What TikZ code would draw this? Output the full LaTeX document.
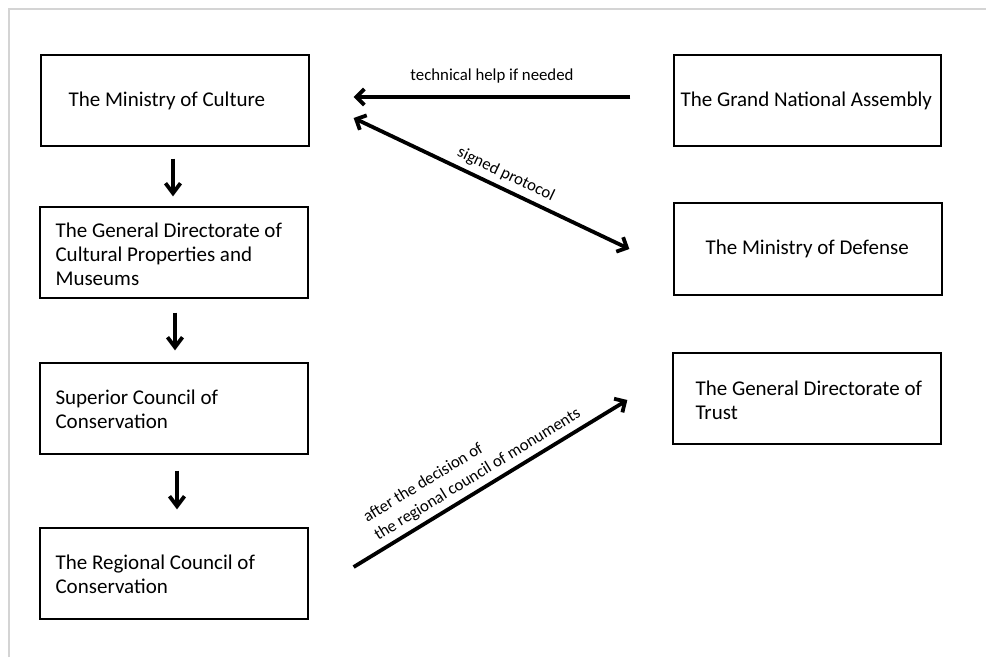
\documentclass[tikz,border=0pt]{standalone}
\usepackage{fontspec}
\setmainfont{Carlito}
\usetikzlibrary{arrows.meta}
\definecolor{framegray}{RGB}{212,212,212}
\begin{document}
\begin{tikzpicture}[x=1pt,y=-1pt,
  box/.style={draw, line width=1.3pt, minimum width=268pt, minimum height=91pt, inner sep=0pt},
  txt/.style={anchor=west, inner sep=0pt, align=left, font=\fontsize{21}{24}\selectfont},
  lbl/.style={font=\fontsize{16.8}{21}\selectfont, inner sep=2pt},
  barb/.tip={Straight Barb[length=8pt,width=16pt]},
  vbarb/.tip={Straight Barb[length=10pt,width=15pt]},
  conn/.style={line width=3.8pt, -barb},
  vconn/.style={line width=3.8pt, -vbarb},
  conntwo/.style={line width=3.8pt, barb-barb}]
\useasboundingbox (0,0) rectangle (986,657);
\draw[framegray, line width=2pt] (9,657) -- (9,9) -- (986,9);

% left column
\node[box] (culture) at (175,100.5) {};
\node[txt] (culture-t) at ([xshift=28pt]culture.west) {The Ministry of Culture};
\node[box] (gdcp) at (174,252.5) {};
\node[txt] (gdcp-t) at ([xshift=16pt,yshift=-2pt]gdcp.west) {The General Directorate of\\Cultural Properties and\\Museums};
\node[box] (superior) at (174,408.5) {};
\node[txt] (superior-t) at ([xshift=16pt,yshift=-1pt]superior.west) {Superior Council of\\Conservation};
\node[box] (regional) at (174,573.5) {};
\node[txt] (regional-t) at ([xshift=16pt,yshift=-1pt]regional.west) {The Regional Council of\\Conservation};

% right column
\node[box, minimum width=267pt] (gna) at (807.5,100.5) {};
\node[txt] (gna-t) at ([xshift=7pt]gna.west) {The Grand National Assembly};
\node[box, minimum height=92pt] (defense) at (808,249) {};
\node[txt] (defense-t) at ([xshift=32pt]defense.west) {The Ministry of Defense};
\node[box] (trust) at (807,398.5) {};
\node[txt] (trust-t) at ([xshift=23pt,yshift=-2pt]trust.west) {The General Directorate of\\Trust};

% vertical arrows
\draw[vconn] ([xshift=-2pt,yshift=-12pt]culture.south) -- ([xshift=-1pt,yshift=10pt]gdcp.north);
\draw[vconn] ([xshift=1pt,yshift=-14pt]gdcp.south) -- ([xshift=1pt,yshift=12pt]superior.north);
\draw[vconn] ([xshift=3pt,yshift=-16pt]superior.south) -- ([xshift=3pt,yshift=18pt]regional.north);

% horizontal / diagonal arrows
\draw[conn] ([xshift=-43pt,yshift=3.5pt]gna.west) -- node[lbl, above=10pt] (lbl-tech) {technical help if needed} ([xshift=44pt,yshift=3.5pt]culture.east);
\draw[conntwo] ([xshift=44pt,yshift=-17.5pt]culture.east) -- node[lbl, sloped, above=3pt, pos=0.53] (lbl-prot) {signed protocol} ([xshift=-44pt]defense.west);
\draw[conn] ([xshift=45pt,yshift=6.5pt]regional.east) -- node[lbl, sloped, above=3pt, pos=0.48, align=left] (lbl-dec) {after the decision of\\the regional council of monuments} ([xshift=-45pt,yshift=-1.5pt]trust.west);
\end{tikzpicture}
\end{document}
